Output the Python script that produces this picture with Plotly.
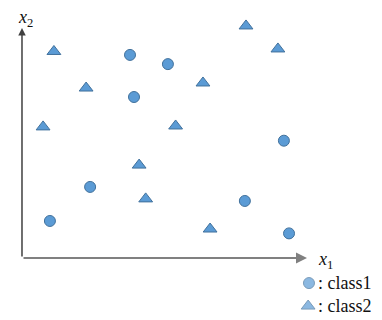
import plotly.graph_objects as go

# data values (abstract units, x1 and x2 in 0..10)
class1_x = [3.79, 5.12, 3.93, 9.19, 2.39, 0.98, 7.82, 9.37]
class1_y = [8.83, 8.43, 7.00, 5.10, 3.09, 1.61, 2.48, 1.07]
class2_x = [1.12, 7.86, 8.98, 2.25, 6.35, 0.74, 5.39, 4.11, 4.34, 6.60]
class2_y = [8.98, 10.09, 9.09, 7.39, 7.61, 5.70, 5.74, 4.04, 2.57, 1.26]
legend_labels = [": class1", ": class2"]

FILL = "#5B9BD5"
EDGE = "#41719C"
SERIF = "Liberation Serif, Times New Roman, serif"

fig = go.Figure()
fig.add_trace(go.Scatter(x=class1_x, y=class1_y, mode="markers", name="class1",
                         marker=dict(symbol="circle", size=11, color=FILL,
                                     line=dict(color=EDGE, width=1)),
                         cliponaxis=False, showlegend=False))
fig.add_trace(go.Scatter(x=class2_x, y=class2_y, mode="markers", name="class2",
                         marker=dict(symbol="triangle-up", size=12, color=FILL,
                                     line=dict(color=EDGE, width=1)),
                         cliponaxis=False, showlegend=False))

# legend keys
key_x = [10.07, 10.04]
key_y = [-1.09, -2.09]
fig.add_trace(go.Scatter(x=key_x, y=key_y, mode="markers",
                         marker=dict(symbol=["circle", "triangle-up"], size=[11, 12], color=FILL,
                                     line=dict(color=EDGE, width=1)),
                         cliponaxis=False, showlegend=False, hoverinfo="skip"))

annotations = []
# axes with arrows
annotations.append(dict(x=10, y=0, ax=0, ay=0, xref="x", yref="y", axref="x", ayref="y",
                        text="", showarrow=True, arrowhead=2, arrowsize=1, arrowwidth=2.2,
                        arrowcolor="#808080"))
annotations.append(dict(x=0, y=10, ax=0, ay=0, xref="x", yref="y", axref="x", ayref="y",
                        text="", showarrow=True, arrowhead=2, arrowsize=1, arrowwidth=1.5,
                        arrowcolor="#404040"))
annotations.append(dict(x=0.12, y=10.4, xref="x", yref="y", text="<i>x</i><sub>2</sub>",
                        showarrow=False, font=dict(family=SERIF, size=18, color="#111")))
annotations.append(dict(x=10.65, y=-0.1, xref="x", yref="y", text="<i>x</i><sub>1</sub>",
                        showarrow=False, font=dict(family=SERIF, size=18, color="#111")))
for lab, ky in zip(legend_labels, key_y):
    annotations.append(dict(x=10.3, y=ky, xref="x", yref="y", text=lab, xanchor="left",
                            showarrow=False, font=dict(family=SERIF, size=18, color="#111")))

# page body has an 8px margin, so the figure is 8px smaller and offset
fig.update_layout(
    width=374, height=312,
    margin=dict(l=0, r=0, t=0, b=0),
    paper_bgcolor="white", plot_bgcolor="white",
    xaxis=dict(range=[-0.491, 12.632], visible=False, fixedrange=True),
    yaxis=dict(range=[-2.696, 10.870], visible=False, fixedrange=True),
    annotations=annotations,
    showlegend=False,
)
fig.write_html("out.html", config={"displayModeBar": False})
